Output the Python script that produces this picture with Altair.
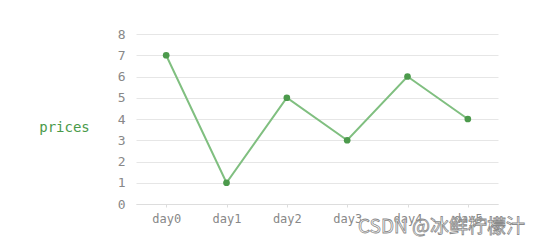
import altair as alt
import pandas as pd

days = ["day0", "day1", "day2", "day3", "day4", "day5"]
prices = [7, 1, 5, 3, 6, 4]
y_ticks = [0, 1, 2, 3, 4, 5, 6, 7, 8]
watermark = ["CSDN @冰鲜柠檬汁"]

df = pd.DataFrame({"day": days, "prices": prices})
FONT = "DejaVu Sans Mono"

x = alt.X("day:N", sort=days, title=None,
          scale=alt.Scale(type="point", padding=0.5),
          axis=alt.Axis(labelAngle=0, labelFont=FONT, labelFontSize=12, labelColor="#888888",
                        domainColor="#dddddd", tickColor="#dddddd", tickSize=3,
                        labelPadding=6, grid=False))
y = alt.Y("prices:Q", scale=alt.Scale(domain=[0, 8]),
          axis=alt.Axis(values=y_ticks, title="prices", titleAngle=0, titleFont=FONT,
                        titleFontSize=14, titleFontWeight="normal", titleColor="#4a9a4a",
                        titleX=-72, titleY=93, titleAlign="center", titleBaseline="middle",
                        labelFont=FONT, labelFontSize=13, labelColor="#888888",
                        domain=False, ticks=False, labelPadding=11,
                        gridColor="#e6e6e6"))

base = alt.Chart(df)
line = base.mark_line(color="#80bf80", strokeWidth=2).encode(x=x, y=y)
pts = base.mark_point(filled=True, color="#4c9a4c", size=45, opacity=1).encode(x=x, y=y)

wm = alt.Chart(pd.DataFrame({"t": watermark})).mark_text(
    align="right", baseline="middle", fontSize=19, color="white", font="Noto Sans CJK SC",
    stroke="#8a8a8a", strokeWidth=0.8
).encode(text="t:N", x=alt.value(389), y=alt.value(193))

chart = alt.layer(line, pts, wm).properties(
    width=362, height=170,
    background="white",
    autosize=alt.AutoSizeParams(type="none"),
    padding={"left": 136, "top": 34, "right": 46, "bottom": 42},
).configure_view(stroke=None)

chart.save("out.html", embed_options={"renderer": "svg", "actions": False})
